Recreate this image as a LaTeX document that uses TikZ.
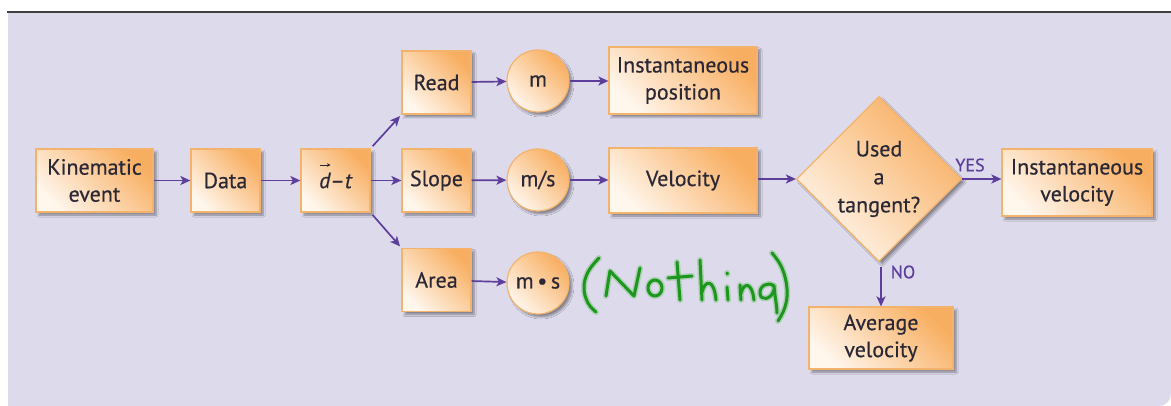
\documentclass[tikz,border=0pt]{standalone}
\usepackage{fontspec}
\setmainfont{PT Sans}[FakeBold=0.5]
\usetikzlibrary{shapes.geometric,arrows.meta,shadows.blur}

\definecolor{bgl}{HTML}{DDDAEC}
\definecolor{orng}{HTML}{F8AE60}
\definecolor{cream}{HTML}{FFF6EC}
\definecolor{edge}{HTML}{F4B36C}
\definecolor{arr}{HTML}{5D3E9A}
\definecolor{ink}{HTML}{2B2836}
\definecolor{pen}{HTML}{1C961C}
\definecolor{penglow}{HTML}{86C686}

\tikzset{
  box/.style={draw=edge, line width=1.2pt, top color=orng, bottom color=cream,
    shading angle=-45, text=ink, align=center, inner sep=0pt,
    font=\fontsize{22}{27}\selectfont,
    blur shadow={shadow xshift=3pt, shadow yshift=-3pt, shadow blur steps=6, shadow opacity=40}},
  rbox/.style={box, rectangle, minimum height=63pt},
  unit/.style={box, circle, minimum size=62pt},
  flow/.style={draw=arr, line width=1.7pt, -{Stealth[length=10pt,width=9pt,inset=2.5pt]}},
  vecmark/.style={draw=ink, line width=0.9pt, -{Stealth[length=3.5pt,width=3.5pt]}},
  answer/.style={text=arr, font=\fontsize{18}{20}\selectfont, inner sep=0pt},
  stroke/.style={line width=3pt, draw=pen, line cap=round, line join=round},
  glow/.style={line width=6pt, draw=penglow, opacity=0.55, line cap=round, line join=round}
}

\begin{document}
\begin{tikzpicture}[x=1pt, y=-1pt]
  \useasboundingbox (0,0) rectangle (1171,406);
  % panel background and rule above it
  \fill[bgl] (8,13) -- (1171,13) [rounded corners=12pt] -- (1171,406) [sharp corners] -- (8,406) -- cycle;
  \draw[line width=2pt, draw=black!75] (7,12) -- (1171,12);

  % left chain
  \node[rbox, minimum width=117pt] (kin) at (94.5,180.5) {Kinematic\\event};
  \node[rbox, minimum width=69pt] (data) at (225.5,180.5) {Data};
  \node[rbox, minimum width=69pt] (dt) at (335.5,180.5) {{\itshape d}–{\itshape t}};
  % vector arrow over the d
  \draw[vecmark] ([shift={(-16,-15.5)}]dt.center) -- ++(11,0);

  % three readings of the graph
  \node[rbox, minimum width=69pt] (read) at (436.5,82.5) {Read};
  \node[rbox, minimum width=69pt] (slope) at (436.5,180.5) {Slope};
  \node[rbox, minimum width=69pt] (area) at (436.5,280) {Area};

  \node[unit] (m) at (538,81) {m};
  \node[unit] (ms) at (538,180) {m/s};
  \node[unit] (msd) at (538,283) {m\,•\,s};

  \node[rbox, minimum width=148pt, minimum height=67pt] (ipos) at (683,80.5) {Instantaneous\\position};
  \node[rbox, minimum width=148pt, minimum height=65pt] (vel) at (683,180.5) {Velocity};

  % decision
  \node[box, diamond, aspect=1, minimum width=165pt, minimum height=165pt] (dec) at (879,179) {};
  \node[text=ink, align=center, font=\fontsize{22}{28}\selectfont] (dectxt) at (dec) {Used\\a\\tangent?};

  \node[rbox, minimum width=150pt, minimum height=67pt] (ivel) at (1077,182.5) {Instantaneous\\velocity};
  \node[rbox, minimum width=144pt, minimum height=62pt] (avg) at (881,338) {Average\\velocity};

  \node[answer] (yes) at (970,165) {YES};
  \node[answer] (no) at (903,272) {NO};

  % connectors
  \draw[flow] (kin) -- (data);
  \draw[flow] (data) -- (dt);
  \draw[flow] (dt) -- (slope);
  \draw[flow, shorten <=3pt, shorten >=2pt] (dt.north east) -- (read.south west);
  \draw[flow, shorten <=3pt, shorten >=2pt] (dt.south east) -- (area.north west);
  \draw[flow] (read) -- (m);
  \draw[flow] (m) -- (ipos.west |- m);
  \draw[flow] (slope) -- (ms);
  \draw[flow] (ms) -- (vel.west |- ms);
  \draw[flow] (area) -- (msd);
  \draw[flow] (vel.east |- dec) -- (dec.west);
  \draw[flow] (dec.east) -- (ivel.west |- dec);
  \draw[flow, shorten <=5pt] (dec.south -| avg.north) -- (avg.north);

  % handwritten note beside m·s
  \foreach \s in {glow, stroke} {
    \draw[\s] plot[smooth, tension=0.7] coordinates {(599,258) (588,272) (584,288) (588,303) (596,312)};
    \draw[\s] (606,296) -- (608,283) -- (610,271) -- (634,296) -- (637,282) -- (640,268);
    \draw[\s] (655,288) ellipse [x radius=7, y radius=8];
    \draw[\s] (677,262) -- (680,300);
    \draw[\s] (668,278) -- (692,276);
    \draw[\s] (700,260) -- (702,300);
    \draw[\s] (702,292) .. controls (705,280) and (714,278) .. (716,300);
    \draw[\s] (727,287) -- (728,300);
    \draw[\s] (727,273) -- (727.5,274);
    \draw[\s] (740,285) -- (741,300);
    \draw[\s] (741,293) .. controls (744,282) and (752,282) .. (754,300);
    \draw[\s] (774,286) .. controls (768,281) and (759,286) .. (760,294) .. controls (761,301) and (771,300) .. (774,290);
    \draw[\s] (774,286) .. controls (775,298) and (777,306) .. (777,313);
    \draw[\s] plot[smooth, tension=0.7] coordinates {(772,253) (782,268) (787,289) (785,307) (778,321)};
  }
\end{tikzpicture}
\end{document}
